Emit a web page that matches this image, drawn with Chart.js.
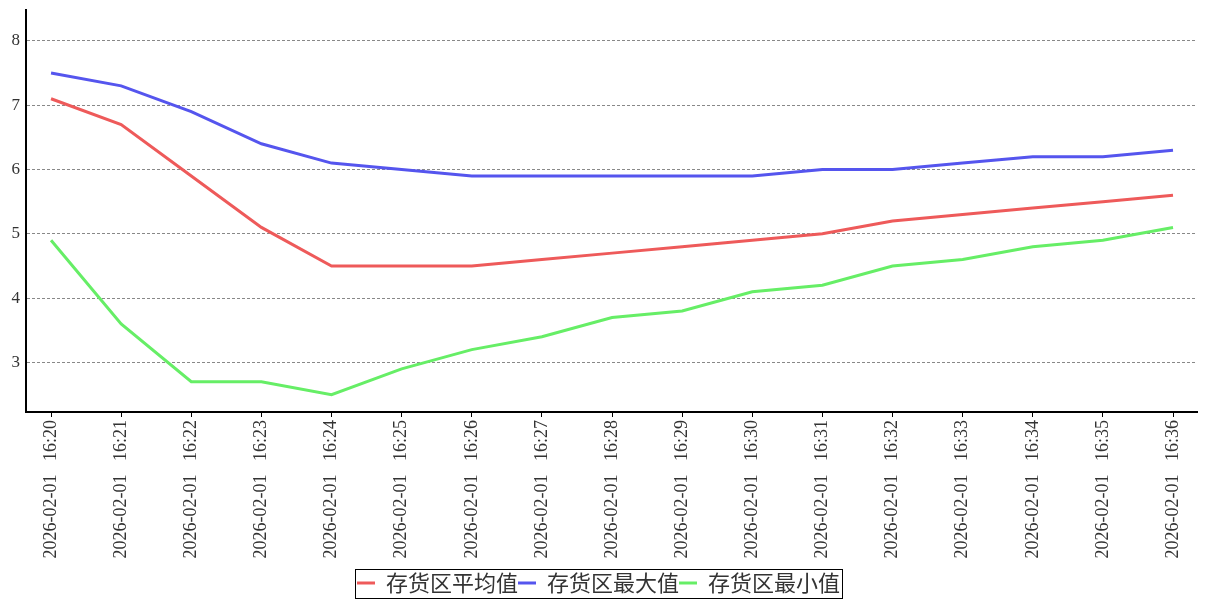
<!DOCTYPE html>
<html><head><meta charset="utf-8">
<script src="https://cdn.jsdelivr.net/npm/chart.js@4/dist/chart.umd.min.js"></script>
<style>html,body{margin:0;padding:0;background:#fff}#wrap{width:1207px;height:600px}</style>
</head><body><div id="wrap"><canvas id="c"></canvas></div>
<script>
const categories = ["2026-02-01   16:20","2026-02-01   16:21","2026-02-01   16:22","2026-02-01   16:23","2026-02-01   16:24","2026-02-01   16:25","2026-02-01   16:26","2026-02-01   16:27","2026-02-01   16:28","2026-02-01   16:29","2026-02-01   16:30","2026-02-01   16:31","2026-02-01   16:32","2026-02-01   16:33","2026-02-01   16:34","2026-02-01   16:35","2026-02-01   16:36"];
const avgValues = [7.1,6.7,5.9,5.1,4.5,4.5,4.5,4.6,4.7,4.8,4.9,5.0,5.2,5.3,5.4,5.5,5.6];
const maxValues = [7.5,7.3,6.9,6.4,6.1,6.0,5.9,5.9,5.9,5.9,5.9,6.0,6.0,6.1,6.2,6.2,6.3];
const minValues = [4.9,3.6,2.7,2.7,2.5,2.9,3.2,3.4,3.7,3.8,4.1,4.2,4.5,4.6,4.8,4.9,5.1];
const yTicks = [3,4,5,6,7,8];
const seriesNames = ["存货区平均值","存货区最大值","存货区最小值"];

const toPts = arr => arr.map((v,i)=>({x:i,y:v}));
const legendBorder = {
  id:'legendBorder',
  afterDraw(chart){
    const lg = chart.legend; if(!lg || !lg.legendHitBoxes || !lg.legendHitBoxes.length) return;
    const hb = lg.legendHitBoxes;
    let l=Infinity,r=-Infinity,t=Infinity,b=-Infinity;
    hb.forEach(h=>{l=Math.min(l,h.left);r=Math.max(r,h.left+h.width);t=Math.min(t,h.top);b=Math.max(b,h.top+h.height);});
    const ctx=chart.ctx; ctx.save(); ctx.strokeStyle='#000'; ctx.lineWidth=1;
    const x0=Math.round(l-2), y0=Math.round(t-3), x1=Math.round(r+2), y1=Math.round(b+4);
    ctx.strokeRect(x0+0.5, y0+0.5, x1-x0, y1-y0);
    ctx.restore();
  }
};
const mk=(label,data,color)=>({label,data:toPts(data),borderColor:color,backgroundColor:color,borderWidth:3,pointRadius:0,tension:0,fill:false});
new Chart(document.getElementById('c'),{
  type:'line',
  data:{datasets:[mk(seriesNames[0],avgValues,'#ee5a5a'),mk(seriesNames[1],maxValues,'#5555ee'),mk(seriesNames[2],minValues,'#66ee66')]},
  options:{
    responsive:true,maintainAspectRatio:false,animation:false,
    layout:{padding:{top:10,right:10,left:0,bottom:-4}},
    plugins:{
      tooltip:{enabled:false},
      legend:{position:'bottom',labels:{usePointStyle:true,pointStyle:'line',pointStyleWidth:18,boxHeight:3,padding:0,color:'#333',font:{family:'"Noto Sans CJK SC"',size:22}}}
    },
    scales:{
      x:{type:'linear',min:-0.357,max:16.342,
        afterBuildTicks(s){s.ticks=categories.map((c,i)=>({value:i}));},
        afterFit(s){s.height=160;},
        grid:{drawOnChartArea:false,drawTicks:true,tickLength:5,color:'#000',lineWidth:1},
        border:{display:true,color:'#000',width:2},
        ticks:{autoSkip:false,minRotation:90,maxRotation:90,padding:3,color:'#333',font:{family:'"Liberation Serif"',size:18},callback:(v)=>categories[v]}
      },
      y:{type:'linear',min:2.23,max:8.48,
        afterBuildTicks(s){s.ticks=yTicks.map(v=>({value:v}));},
        afterFit(s){s.width=26;s.paddingTop=0;},
        grid:{drawTicks:false,color:'#888',lineWidth:1},
        border:{display:true,color:'#000',width:2,dash:[3,2]},
        ticks:{padding:6,color:'#333',font:{family:'"Liberation Serif"',size:17,lineHeight:0.5}}
      }
    }
  },
  plugins:[legendBorder]
});
</script></body></html>
